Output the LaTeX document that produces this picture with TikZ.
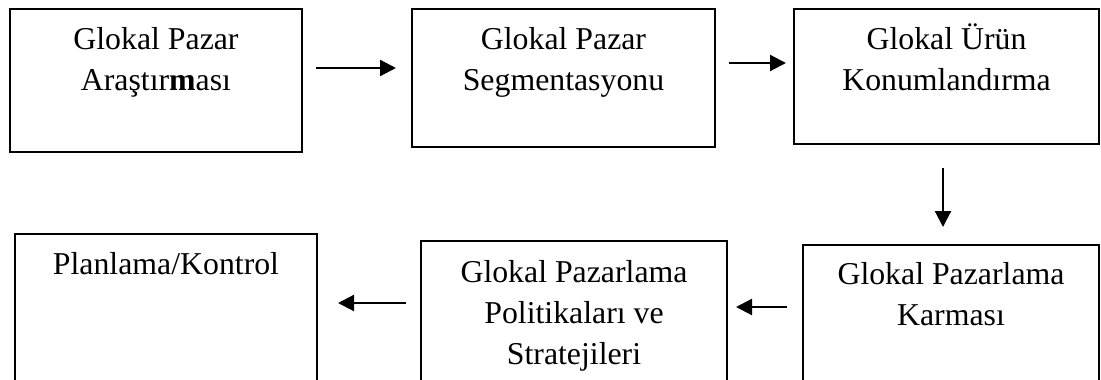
\documentclass[tikz,border=0pt]{standalone}
\usepackage{fontspec}
\setmainfont{Liberation Serif}
\usetikzlibrary{arrows.meta}
\begin{document}
\begin{tikzpicture}[x=1pt,y=-1pt,
  box/.style={draw=black,line width=2pt,inner sep=0pt,rectangle},
  lbl/.style={anchor=north,align=center,inner sep=0pt,
    font=\fontsize{31.8}{41}\selectfont},
  arr/.style={line width=2.2pt,-{Triangle[length=16pt,width=16pt]}}]
\clip (0,0) rectangle (1101,380);
\fill[white] (0,0) rectangle (1101,380);
% process boxes (lower row runs past the page edge)
\node[box,minimum width=292pt,minimum height=143pt] (b1) at (156,80.5) {};
\node[box,minimum width=303pt,minimum height=138pt] (b2) at (563.5,78) {};
\node[box,minimum width=305pt,minimum height=135pt] (b3) at (946.5,76.5) {};
\node[box,minimum width=302pt,minimum height=166pt] (b4) at (166,317) {};
\node[box,minimum width=306pt,minimum height=159pt] (b5) at (574,320.5) {};
\node[box,minimum width=296pt,minimum height=155pt] (b6) at (951,322.5) {};
% box texts
\node[lbl] (t1) at ([yshift=-13pt]b1.north) {\strut Glokal Pazar\\\strut Araştır\textbf{m}ası};
\node[lbl] (t2) at ([yshift=-12.3pt]b2.north) {\strut Glokal Pazar\\\strut Segmentasyonu};
\node[lbl] (t3) at ([yshift=-12.3pt]b3.north) {\strut Glokal Ürün\\\strut Konumlandırma};
\node[lbl] (t4) at ([yshift=-13pt]b4.north) {\strut Planlama/Kontrol};
\node[lbl] (t5) at ([yshift=-13.3pt]b5.north) {\strut Glokal Pazarlama\\\strut Politikaları ve\\\strut Stratejileri};
\node[lbl] (t6) at ([yshift=-11.3pt]b6.north) {\strut Glokal Pazarlama\\\strut Karması};
% connectors
\draw[arr,shorten <=13pt,shorten >=15pt] ([yshift=12.5pt]b1.east) coordinate (p1) -- (p1 -| b2.west);
\draw[arr,shorten <=13pt,shorten >=7pt] ([yshift=15pt]b2.east) coordinate (p2) -- (p2 -| b3.west);
\draw[arr,shorten <=23pt,shorten >=17pt] ([xshift=-3.5pt]b3.south) coordinate (p3) -- (p3 |- b6.north);
\draw[arr,shorten <=15pt,shorten >=8pt] ([yshift=15.5pt]b6.west) coordinate (p4) -- (p4 -| b5.east);
\draw[arr,shorten <=14pt,shorten >=20pt] ([yshift=17.5pt]b5.west) coordinate (p5) -- (p5 -| b4.east);
\end{tikzpicture}
\end{document}
